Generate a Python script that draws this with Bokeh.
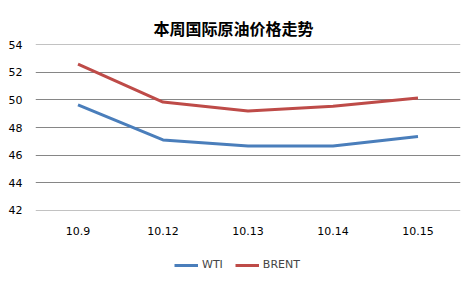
import numpy as np
from bokeh.plotting import figure
from bokeh.layouts import column
from bokeh.models import Legend, LegendItem, FixedTicker, Range1d
from bokeh.embed import file_html
from bokeh.resources import INLINE

dates = ["10.9", "10.12", "10.13", "10.14", "10.15"]
wti = [49.65, 47.1, 46.65, 46.65, 47.35]
brent = [52.6, 49.85, 49.2, 49.55, 50.15]
y_ticks = [42, 44, 46, 48, 50, 52, 54]
series_names = ["WTI", "BRENT"]
series_colors = ["#4a7ebb", "#be4b48"]

p = figure(frame_width=425, frame_height=166, x_range=dates, y_range=Range1d(41.97, 54.03),
           output_backend="svg", toolbar_location=None,
           min_border_left=35, min_border_right=14, min_border_top=44, min_border_bottom=31)
p.title.text = "本周国际原油价格走势"
p.title.align = "left"
p.title.offset = 118
p.title.text_font = "Noto Sans CJK SC"
p.title.text_font_size = "16px"
p.title.text_font_style = "bold"
p.title.text_color = "#000000"

p.line(dates, wti, line_color=series_colors[0], line_width=3)
p.line(dates, brent, line_color=series_colors[1], line_width=3)

p.outline_line_color = None
p.xgrid.grid_line_color = None
p.ygrid.grid_line_color = "#868686"
p.ygrid.grid_line_width = 1
p.yaxis.ticker = FixedTicker(ticks=y_ticks)
for ax in (p.xaxis, p.yaxis):
    ax.axis_line_color = None
    ax.major_tick_line_color = None
    ax.minor_tick_line_color = None
    ax.major_tick_out = 0
    ax.major_tick_in = 0
    ax.minor_tick_out = 0
    ax.minor_tick_in = 0
    ax.major_label_text_font = "DejaVu Sans"
    ax.major_label_text_font_size = "11px"
    ax.major_label_text_color = "#000000"
p.xaxis.major_label_standoff = 16
p.yaxis.major_label_standoff = 13

# legend strip below the chart
p2 = figure(width=474, height=40, output_backend="svg", toolbar_location=None,
            x_axis_location=None, y_axis_location=None,
            min_border_left=0, min_border_right=0, min_border_top=0, min_border_bottom=0)
p2.outline_line_color = None
p2.xgrid.grid_line_color = None
p2.ygrid.grid_line_color = None
items = []
for name, col in zip(series_names, series_colors):
    r = p2.line(x=[np.nan], y=[np.nan], line_color=col, line_width=3)
    items.append(LegendItem(label=name, renderers=[r]))
legend = Legend(items=items, orientation="horizontal", location=(139, 10),
                label_text_font="DejaVu Sans", label_text_font_size="11px",
                glyph_width=24, glyph_height=12, label_standoff=4, spacing=12,
                label_height=12,
                border_line_color=None, background_fill_alpha=0,
                margin=0, padding=0)
p2.add_layout(legend, "center")

layout = column(p, p2, spacing=0)
open("out.html", "w").write(file_html(layout, INLINE))
